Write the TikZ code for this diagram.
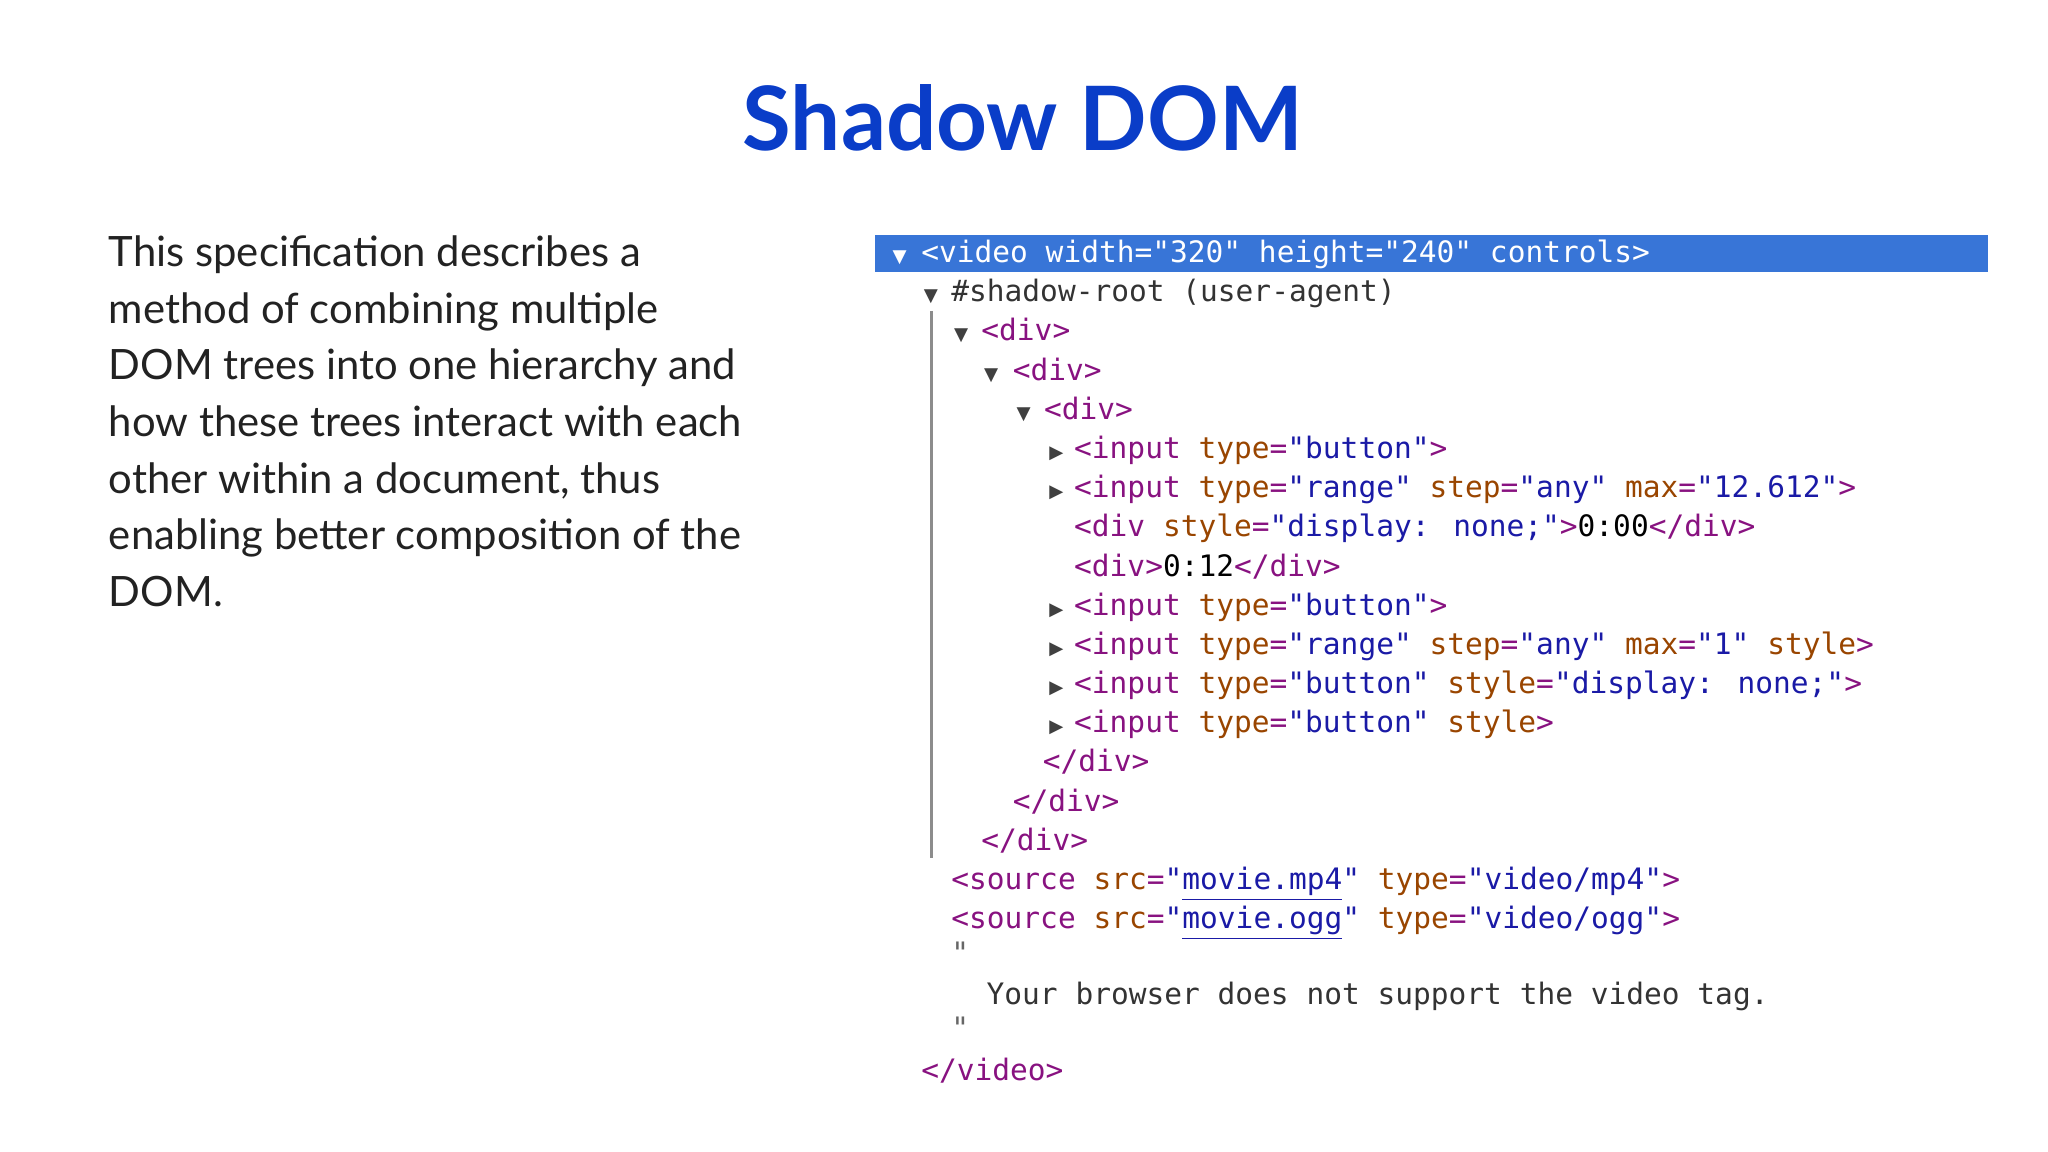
\documentclass[tikz,border=0pt]{standalone}
\usepackage{fontspec}
\setmainfont{Lato}
\newfontfamily\codefont{DejaVu Sans Mono}
\newfontfamily\symfont{DejaVu Sans}
\definecolor{titleblue}{HTML}{0A3DC8}
\definecolor{barblue}{HTML}{3875D7}
\definecolor{tagc}{HTML}{881280}
\definecolor{attc}{HTML}{994500}
\definecolor{valc}{HTML}{1A1AA6}
\definecolor{txtc}{HTML}{222222}
\newcommand{\tg}[1]{\textcolor{tagc}{#1}}
\newcommand{\an}[1]{\textcolor{attc}{#1}}
\newcommand{\av}[1]{\textcolor{valc}{#1}}
\newcommand{\lk}[1]{\textcolor{valc}{\underline{#1}}}
\begin{document}
\begin{tikzpicture}[x=0.5pt,y=-0.5pt,
  code/.style={anchor=base west,inner sep=0pt,font=\codefont\fontsize{11.3}{13}\selectfont},
  tri/.style={anchor=base west,inner sep=0pt,font=\symfont\fontsize{7}{8}\selectfont,text=black!75}]
\useasboundingbox (0,0) rectangle (1568,882);
\node[anchor=center,text=titleblue,font=\bfseries\fontsize{34}{40}\selectfont] (title) at (783,90) {Shadow DOM};
\node[anchor=north west,inner sep=0pt,text=txtc,align=left,font=\fontsize{16}{21.7}\selectfont] (body) at (83,180) {This specification describes a\\method of combining multiple\\DOM trees into one hierarchy and\\how these trees interact with each\\other within a document, thus\\enabling better composition of the\\DOM.};
\fill[barblue] (670,180) rectangle (1522,208);
\draw[black!45,line width=1pt] (713,238) -- (713,657);
\node[tri,text=white] (t1) at (683,201) {▼};
\node[code,text=white] (l1) at (705,201) {<video width="320" height="240" controls>};
\node[tri] (t2) at (707,231) {▼};
\node[code,text=black!80] (l2) at (728,231) {\#shadow-root (user-agent)};
\node[tri] (t3) at (730,261) {▼};
\node[code] (l3) at (751,261) {\tg{<div>}};
\node[tri] (t4) at (753,291) {▼};
\node[code] (l4) at (775,291) {\tg{<div>}};
\node[tri] (t5) at (778,321) {▼};
\node[code] (l5) at (799,321) {\tg{<div>}};
\node[tri] (t6) at (803,351) {▶};
\node[code] (l6) at (822,351) {\tg{<input} \an{type}\tg{=}\av{"button"}\tg{>}};
\node[tri] (t7) at (803,381) {▶};
\node[code] (l7) at (822,381) {\tg{<input} \an{type}\tg{=}\av{"range"} \an{step}\tg{=}\av{"any"} \an{max}\tg{=}\av{"12.612"}\tg{>}};
\node[code] (l8) at (822,411) {\tg{<div} \an{style}\tg{=}\av{"display: none;"}\tg{>}0:00\tg{</div>}};
\node[code] (l9) at (822,441) {\tg{<div>}0:12\tg{</div>}};
\node[tri] (t10) at (803,471) {▶};
\node[code] (l10) at (822,471) {\tg{<input} \an{type}\tg{=}\av{"button"}\tg{>}};
\node[tri] (t11) at (803,501) {▶};
\node[code] (l11) at (822,501) {\tg{<input} \an{type}\tg{=}\av{"range"} \an{step}\tg{=}\av{"any"} \an{max}\tg{=}\av{"1"} \an{style}\tg{>}};
\node[tri] (t12) at (803,531) {▶};
\node[code] (l12) at (822,531) {\tg{<input} \an{type}\tg{=}\av{"button"} \an{style}\tg{=}\av{"display: none;"}\tg{>}};
\node[tri] (t13) at (803,561) {▶};
\node[code] (l13) at (822,561) {\tg{<input} \an{type}\tg{=}\av{"button"} \an{style}\tg{>}};
\node[code] (l14) at (798,591) {\tg{</div>}};
\node[code] (l15) at (775,621) {\tg{</div>}};
\node[code] (l16) at (751,651) {\tg{</div>}};
\node[code] (l17) at (728,681) {\tg{<source} \an{src}\tg{=}\av{"}\lk{movie.mp4}\av{"} \an{type}\tg{=}\av{"video/mp4"}\tg{>}};
\node[code] (l18) at (728,711) {\tg{<source} \an{src}\tg{=}\av{"}\lk{movie.ogg}\av{"} \an{type}\tg{=}\av{"video/ogg"}\tg{>}};
\node[code,text=black!60] (q1) at (728,738) {"};
\node[code,text=black!80] (l19) at (755,769) {Your browser does not support the video tag.};
\node[code,text=black!60] (q2) at (728,795) {"};
\node[code] (l20) at (705,827) {\tg{</video>}};
\end{tikzpicture}
\end{document}
